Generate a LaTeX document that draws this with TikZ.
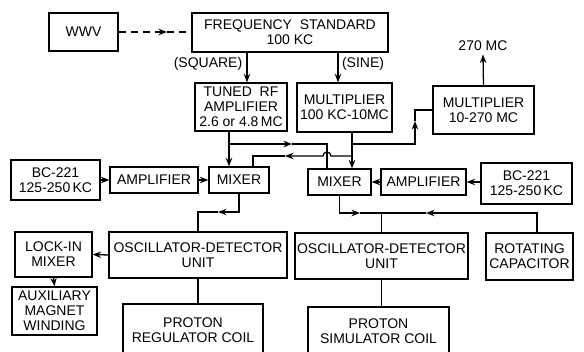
\documentclass[tikz,border=0pt]{standalone}
\usepackage{fontspec}
\setmainfont{Liberation Sans}
\usetikzlibrary{arrows.meta}
\begin{document}
\begin{tikzpicture}[
    x=1pt,
    y=1pt,
    >={Stealth[length=8.5pt,width=6.5pt]},
    block/.style={draw,line width=1.3pt,align=center,inner sep=0pt,
      font=\fontsize{14}{15}\selectfont},
    link/.style={line width=1.3pt},
    feed/.style={->,line width=1.3pt},
    tag/.style={font=\fontsize{14}{15}\selectfont}
  ]
    \useasboundingbox (0,0) rectangle (584,352);

    % top row
    \node[block,minimum width=69,minimum height=38] (wwv) at (83.5,320) {WWV};
    \node[block,minimum width=196,minimum height=39] (freqstd) at (290,319.5)
      {FREQUENCY\ \ STANDARD\\100 KC};
    \node[block,minimum width=92,minimum height=48] (tunedrf) at (241,245)
      {TUNED\ \ RF\\AMPLIFIER\\2.6 or 4.8\,MC};
    \node[block,minimum width=95,minimum height=49] (multlow) at (344.5,244.5)
      {MULTIPLIER\\100 KC-10MC};
    \node[block,minimum width=101,minimum height=48] (multhigh) at (483.5,242)
      {MULTIPLIER\\10-270 MC};

    \node[tag] (square) at (208,288) {(SQUARE)};
    \node[tag] (sine) at (363,288) {(SINE)};
    \node[tag] (mc270) at (483,306) {270 MC};

    % mixer row
    \node[block,minimum width=89,minimum height=40] (bcleft) at (55.5,172)
      {BC-221\\125-250\,KC};
    \node[block,minimum width=88,minimum height=26] (ampleft) at (154,172) {AMPLIFIER};
    \node[block,minimum width=60,minimum height=26] (mixleft) at (239,172) {MIXER};
    \node[block,minimum width=63,minimum height=26] (mixright) at (339.5,170) {MIXER};
    \node[block,minimum width=85,minimum height=26] (ampright) at (423.5,170) {AMPLIFIER};
    \node[block,minimum width=91,minimum height=41] (bcright) at (526.5,168.5)
      {BC-221\\125-250\,KC};

    % detector row
    \node[block,minimum width=77,minimum height=45] (lockin) at (53.5,97.5)
      {LOCK-IN\\MIXER};
    \node[block,minimum width=178,minimum height=46] (oscleft) at (198,97)
      {OSCILLATOR-DETECTOR\\UNIT};
    \node[block,minimum width=173,minimum height=46] (oscright) at (381.5,96)
      {OSCILLATOR-DETECTOR\\UNIT};
    \node[block,minimum width=87,minimum height=47] (rotcap) at (529.5,95.5)
      {ROTATING\\CAPACITOR};

    % bottom row
    \node[block,minimum width=85,minimum height=48] (auxwind) at (54.5,41)
      {AUXILIARY\\MAGNET\\WINDING};
    \node[block,minimum width=140,minimum height=52] (regcoil) at (193,22)
      {PROTON\\REGULATOR COIL};
    \node[block,minimum width=141,minimum height=49] (simcoil) at (378.5,20.5)
      {PROTON\\SIMULATOR COIL};

    % junctions
    \coordinate (wwvmid) at (167,320);
    \coordinate (sqx) at (247,280);
    \coordinate (sinx) at (338,280);
    \coordinate (rfout) at (229,208);
    \coordinate (rfarrow) at (292,208);
    \coordinate (rfturn) at (327,208);
    \coordinate (mlout) at (352,208);
    \coordinate (mlarrow) at (415,231);
    \coordinate (lowstart) at (352,196);
    \coordinate (lowarrow) at (285,196);
    \coordinate (lowturn) at (253,196);
    \coordinate (lfarrow) at (218,140);
    \coordinate (rmarrow) at (360,139);
    \coordinate (rcarrow) at (426,139);
    \coordinate (rcx) at (537,139);

    \draw[feed,dash pattern=on 7pt off 5pt] (wwv.east) -- (wwvmid);
    \draw[link,dash pattern=on 7pt off 5pt] (wwvmid) -- (freqstd.west |- wwvmid);

    \draw[feed] (freqstd.south -| sqx) -- (tunedrf.north -| sqx);
    \draw[feed] (freqstd.south -| sinx) -- (multlow.north -| sinx);
    \draw[feed] (multhigh.north) -- (mc270.south);

    \draw[feed] (tunedrf.south -| rfout) -- (mixleft.north -| rfout);
    \draw[feed] (rfout) -- (rfarrow);
    \draw[link] (rfarrow) -- (rfturn) -- (mixright.north -| rfturn);

    \draw[feed] (multlow.south -| lowstart) -- (mixright.north -| lowstart);
    \draw[feed] (mlout) -| (mlarrow);
    \draw[link] (mlarrow) |- (multhigh.west);
    \draw[feed] (lowstart) -- ([xshift=4pt]rfturn |- lowstart)
      arc[start angle=0,end angle=180,radius=4pt] -- (lowarrow);
    \draw[link] (lowarrow) -| (mixleft.north -| lowturn);

    \draw[feed] (bcleft.east) -- (ampleft.west);
    \draw[feed] (ampleft.east) -- (mixleft.west);
    \draw[feed] (ampright.east -| bcright.west) -- (ampright.east);
    \draw[feed] (ampright.west) -- (mixright.east);

    \draw[feed] (mixleft.south) |- (lfarrow);
    \draw[link] (lfarrow) -| (oscleft.north);
    \draw[feed] (oscleft.west) -- (lockin.east);
    \draw[feed] (lockin.south) -- (auxwind.north);
    \draw[link] (oscleft.south) -- (oscleft.south |- regcoil.north);

    \draw[feed] (mixright.south) |- (rmarrow);
    \draw[link] (rmarrow) -- (oscright.north |- rmarrow) -- (oscright.north);
    \draw[feed] (rotcap.north -| rcx) -- (rcx) -- (rcarrow);
    \draw[link] (rcarrow) -- (oscright.north |- rcarrow);
    \draw[link] (oscright.south) -- (oscright.south |- simcoil.north);
  \end{tikzpicture}
\end{document}
